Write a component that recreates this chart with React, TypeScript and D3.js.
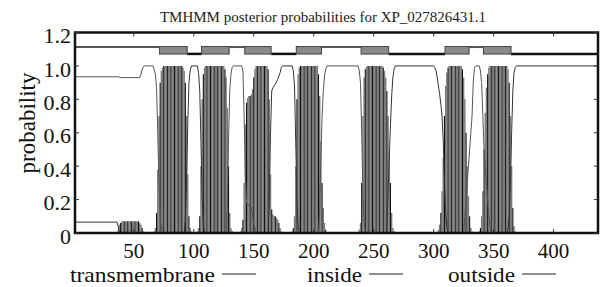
import React from "react";
import * as d3 from "d3";

const title = "TMHMM posterior probabilities for XP_027826431.1";
const seqLength = 437;
const xTicks = [50, 100, 150, 200, 250, 300, 350, 400];
const yTicks = [0, 0.2, 0.4, 0.6, 0.8, 1.0, 1.2];
const yTickLabels = ["0", "0.2", "0.4", "0.6", "0.8", "1.0", "1.2"];

// Transmembrane posterior per residue (runs: first residue, then values)
const tmRunStarts = [37, 67, 103, 139, 182, 238, 304, 338];
const tmRunValues: number[][] = [
  [0.02, 0.05, 0.06, 0.07, 0.07, 0.07, 0.07, 0.07, 0.07, 0.07, 0.07, 0.07, 0.07, 0.07, 0.07, 0.07, 0.07, 0.07, 0.06, 0.05, 0.03, 0.01],
  [0.01, 0.03, 0.12, 0.38, 0.7, 0.9, 0.97, 0.99, 1, 1, 1, 1, 1, 1, 1, 1, 1, 1, 1, 1, 1, 1, 1, 1, 0.99, 0.97, 0.9, 0.7, 0.35, 0.1, 0.03, 0.01],
  [0.01, 0.03, 0.1, 0.4, 0.8, 0.95, 0.99, 1, 1, 1, 1, 1, 1, 1, 1, 1, 1, 1, 1, 1, 1, 1, 1, 0.98, 0.93, 0.75, 0.4, 0.12, 0.03, 0.01],
  [0.01, 0.03, 0.08, 0.3, 0.65, 0.78, 0.81, 0.82, 0.82, 0.83, 0.86, 0.93, 0.98, 1, 1, 1, 1, 1, 1, 1, 1, 1, 1, 0.98, 0.8, 0.35, 0.14, 0.11, 0.1, 0.1, 0.09, 0.08, 0.06, 0.03, 0.01],
  [0.01, 0.03, 0.1, 0.4, 0.8, 0.95, 0.99, 1, 1, 1, 1, 1, 1, 1, 1, 1, 1, 1, 1, 1, 1, 1, 0.95, 0.82, 0.55, 0.3, 0.15, 0.06, 0.02],
  [0.02, 0.06, 0.3, 0.7, 0.93, 0.98, 0.995, 1, 1, 1, 1, 1, 1, 1, 1, 1, 1, 1, 1, 1, 0.99, 0.97, 0.93, 0.85, 0.7, 0.5, 0.3, 0.12, 0.03, 0.01],
  [0.02, 0.05, 0.12, 0.25, 0.45, 0.7, 0.88, 0.96, 0.99, 1, 1, 1, 1, 1, 1, 1, 1, 1, 1, 1, 0.98, 0.93, 0.8, 0.6, 0.4, 0.22, 0.1, 0.03, 0.01],
  [0.01, 0.03, 0.1, 0.25, 0.5, 0.72, 0.87, 0.95, 0.99, 1, 1, 1, 1, 1, 1, 1, 1, 1, 1, 1, 1, 1, 1, 1, 0.98, 0.9, 0.7, 0.4, 0.15, 0.04, 0.01],
];

// Inside posterior: [residue, probability]
const insidePoints: [number, number][] = [
  [1, 0.065], [36, 0.065], [37, 0.04], [38, 0], [92, 0], [93, 0.08], [94, 0.3], [95, 0.65], [96, 0.9], [97, 0.97], [98, 1], [103, 1],
  [104, 0.96], [105, 0.85], [106, 0.55], [107, 0.2], [108, 0.05], [109, 0], [162, 0], [163, 0.2], [164, 0.6], [165, 0.85],
  [166, 0.87], [168, 0.89], [170, 0.92], [172, 0.96], [173, 0.99], [174, 1], [182, 1], [183, 0.97], [184, 0.88], [185, 0.55],
  [186, 0.2], [187, 0.05], [188, 0], [261, 0], [262, 0.25], [263, 0.45], [264, 0.65], [265, 0.82], [266, 0.93], [267, 0.98],
  [268, 1], [300, 1], [301, 0.99], [302, 0.97], [303, 0.93], [304, 0.88], [305, 0.83], [306, 0.77], [307, 0.7], [308, 0.55],
  [309, 0.3], [310, 0.12], [311, 0.04], [312, 0], [361, 0], [362, 0.03], [363, 0.1], [364, 0.3], [365, 0.6], [366, 0.85],
  [367, 0.96], [368, 0.99], [369, 1], [437, 1],
];

// Outside posterior: [residue, probability]
const outsidePoints: [number, number][] = [
  [1, 0.935], [37, 0.935], [39, 0.93], [55, 0.93], [56, 0.95], [57, 0.98], [58, 0.995], [59, 1], [66, 1], [67, 0.98], [68, 0.95],
  [69, 0.87], [70, 0.6], [71, 0.3], [72, 0.1], [73, 0.03], [75, 0], [127, 0], [128, 0.2], [129, 0.55], [130, 0.85], [131, 0.95],
  [132, 0.99], [133, 1], [140, 1], [141, 0.97], [142, 0.7], [143, 0.35], [144, 0.18], [148, 0.15], [150, 0.06], [152, 0],
  [204, 0], [205, 0.15], [206, 0.45], [207, 0.7], [208, 0.85], [209, 0.94], [210, 0.98], [211, 1], [237, 1], [238, 0.97],
  [239, 0.9], [240, 0.6], [241, 0.25], [242, 0.06], [243, 0], [325, 0], [326, 0.1], [327, 0.2], [328, 0.3], [329, 0.4],
  [330, 0.5], [331, 0.6], [332, 0.7], [333, 0.9], [334, 0.99], [335, 1], [338, 1], [339, 0.97], [340, 0.9], [341, 0.7],
  [342, 0.5], [343, 0.4], [344, 0.3], [345, 0.2], [346, 0.1], [347, 0.03], [348, 0], [437, 0],
];

// Predicted topology
const tmRanges: [number, number][] = [[72, 94], [107, 129], [143, 164], [186, 206], [240, 262], [310, 329], [342, 364]];
const insideRanges: [number, number][] = [[95, 106], [165, 185], [263, 309], [365, 437]];
const outsideRanges: [number, number][] = [[1, 71], [130, 142], [207, 239], [330, 341]];

const legendItems = ["transmembrane", "inside", "outside"];

const W = 607;
const H = 287;
const FONT = '"Liberation Serif", "Times New Roman", "DejaVu Serif", serif';

export default function App() {
  const x = d3.scaleLinear().domain([1, seqLength]).range([75, 598]);
  const y = d3.scaleLinear().domain([0, 1.2]).range([233, 32.5]);

  const tm: { r: number; v: number }[] = [];
  tmRunStarts.forEach((s, i) => tmRunValues[i].forEach((v, j) => tm.push({ r: s + j, v })));
  const tmLight = tm.filter((d) => d.r % 3 !== 0);
  const tmDark = tm.filter((d) => d.r % 3 === 0);

  const line = d3
    .line<[number, number]>()
    .x((d) => x(d[0]))
    .y((d) => y(d[1]));

  const yOut = y(1.113);
  const yIn = y(1.072);
  const boxTop = y(1.116);
  const boxBot = y(1.071);

  const legendEnds = [215, 362, 515];
  const legendWidths = [145, 55, 67];
  const txt = { fontFamily: FONT };

  return (
    <svg width={W} height={H} style={{ position: "absolute", left: 0, top: 0, background: "#fff", fontFamily: FONT }}>
      <rect x={0} y={0} width={W} height={H} fill="#fff" />
      <text x={323} y={22} fontSize={15} textAnchor="middle" fill="#222" style={txt}>{title}</text>

      {/* TM impulses */}
      <g>
        {tmLight.map((d) => (
          <line key={d.r} x1={x(d.r)} x2={x(d.r)} y1={y(0)} y2={y(d.v)} stroke="#7a7a7a" strokeWidth={1.4} />
        ))}
        {tmDark.map((d) => (
          <line key={d.r} x1={x(d.r)} x2={x(d.r)} y1={y(0)} y2={y(d.v)} stroke="#111" strokeWidth={1.1} />
        ))}
      </g>

      {/* inside & outside curves */}
      <path d={line(insidePoints) || ""} fill="none" stroke="#333" strokeWidth={1} />
      <path d={line(outsidePoints) || ""} fill="none" stroke="#555" strokeWidth={1} />

      {/* topology annotation */}
      {outsideRanges.map(([a, b], i) => (
        <line key={"o" + i} x1={x(a - 0.5)} x2={x(b + 0.5)} y1={yOut} y2={yOut} stroke="#555" strokeWidth={2} />
      ))}
      {insideRanges.map(([a, b], i) => (
        <line key={"i" + i} x1={x(a - 0.5)} x2={Math.min(x(b + 0.5), 598)} y1={yIn} y2={yIn} stroke="#111" strokeWidth={2.5} />
      ))}
      {tmRanges.map(([a, b], i) => (
        <rect key={"t" + i} x={x(a - 0.5)} y={boxTop} width={x(b + 0.5) - x(a - 0.5)} height={boxBot - boxTop} fill="#8a8a8a" stroke="#444" strokeWidth={1} />
      ))}

      {/* frame */}
      <rect x={75} y={32.5} width={523} height={200.5} fill="none" stroke="#111" strokeWidth={2.5} />

      {/* ticks */}
      {xTicks.map((t) => (
        <g key={"xt" + t}>
          <line x1={x(t)} x2={x(t)} y1={233} y2={229} stroke="#333" strokeWidth={1} />
          <line x1={x(t)} x2={x(t)} y1={32.5} y2={36.5} stroke="#333" strokeWidth={1} />
          <text x={x(t)} y={258} fontSize={21} textAnchor="middle" fill="#111" style={txt}>{t}</text>
        </g>
      ))}
      {yTicks.map((t, i) => (
        <g key={"yt" + t}>
          <line x1={75} x2={79} y1={y(t)} y2={y(t)} stroke="#333" strokeWidth={1} />
          <line x1={598} x2={594} y1={y(t)} y2={y(t)} stroke="#333" strokeWidth={1} />
          <text x={71} y={y(t) + 3} dy="0.35em" fontSize={22} textAnchor="end" fill="#111" style={txt}>{yTickLabels[i]}</text>
        </g>
      ))}

      <text transform="translate(27,123) rotate(-90)" fontSize={23} textAnchor="middle" dy="0.35em" fill="#111" style={txt}>probability</text>

      {/* legend */}
      {legendItems.map((name, i) => (
        <g key={name}>
          <text
            x={legendEnds[i] - legendWidths[i]}
            y={282}
            fontSize={21}
            textLength={legendWidths[i]}
            lengthAdjust="spacingAndGlyphs"
            fill="#111"
            style={txt}
          >
            {name}
          </text>
          <line x1={legendEnds[i] + 7} x2={legendEnds[i] + 41} y1={274} y2={274} stroke="#222" strokeWidth={1.2} />
        </g>
      ))}
    </svg>
  );
}
